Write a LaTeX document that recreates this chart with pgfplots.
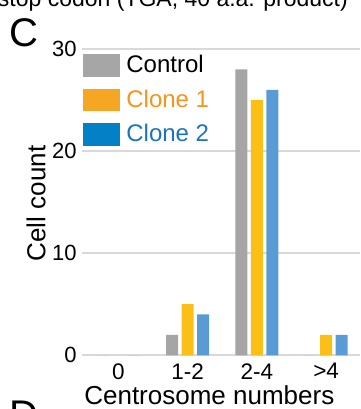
\documentclass[border=0pt]{standalone}
\usepackage{pgfplots}
\pgfplotsset{compat=1.18}
\usepackage{fontspec}
\setmainfont{Liberation Sans}
\definecolor{gridc}{HTML}{D9D9D9}
\definecolor{ctrl}{HTML}{A5A5A5}
\definecolor{cl1}{HTML}{FBBF16}
\definecolor{cl2}{HTML}{5B9BD5}
\definecolor{ctrlL}{HTML}{A6A6A6}
\definecolor{cl1L}{HTML}{F5A623}
\definecolor{cl2L}{HTML}{0480C6}
\definecolor{cl1T}{HTML}{F7941D}
\definecolor{cl2T}{HTML}{1C75BC}
\begin{document}
\begin{tikzpicture}
\useasboundingbox (0pt,0pt) rectangle (360pt,409pt);
\clip (0pt,0pt) rectangle (360pt,409pt);
\node[anchor=base east, inner sep=0pt, font=\fontsize{23}{27}\selectfont] at (348pt,402.5pt) {stop codon (TGA, 40 a.a. product)};
\node[anchor=base west, inner sep=0pt, font=\fontsize{40}{46}\selectfont] at (9pt,362.5pt) {C};
\node[anchor=base west, inner sep=0pt, font=\fontsize{40}{46}\selectfont] at (9pt,-19pt) {D};
\begin{axis}[
  at={(82pt,53.7pt)}, anchor=south west,
  scale only axis, width=278pt, height=306.3pt,
  xmin=-0.527, xmax=3.49, ymin=0, ymax=30,
  axis line style={draw=none},
  ytick={0,10,20,30}, xtick={0,1,2,3}, xticklabels={0,1-2,2-4,>4},
  major tick length=0pt,
  ymajorgrids, grid style={gridc, line width=2pt},
  /pgf/number format/assume math mode=true,
  yticklabel style={anchor=east, inner sep=0pt, xshift=-5.3pt, font=\fontsize{22}{26}\selectfont},
  xticklabel style={anchor=north, inner sep=0pt, yshift=-8pt, font=\fontsize{22.5}{26}\selectfont},
  xlabel={Centrosome numbers},
  xlabel style={at={(axis description cs:0.458,-0.1296)}, anchor=center, inner sep=0pt, font=\fontsize{26}{30}\selectfont},
  ylabel={Cell count},
  ylabel style={at={(axis description cs:-0.165,0.4956)}, anchor=center, inner sep=0pt, font=\fontsize{26}{30}\selectfont},
  legend style={draw=none, fill=none, inner sep=0pt, outer sep=0pt, row sep=12.7pt, column sep=6.7pt,
    at={(axis cs:-0.517,29.5)}, anchor=north west, font=\fontsize{24}{28}\selectfont,
    nodes={inner sep=0pt}},
  legend cell align=left,
]
\addlegendimage{legend image code/.code={\fill[ctrlL] (0pt,-10.7pt) rectangle (36.6pt,10.7pt);}}
\addlegendimage{legend image code/.code={\fill[cl1L] (0pt,-10.7pt) rectangle (36.6pt,10.7pt);}}
\addlegendimage{legend image code/.code={\fill[cl2L] (0pt,-10.7pt) rectangle (36.6pt,10.7pt);}}
\legend{Control,\textcolor{cl1T}{Clone 1},\textcolor{cl2T}{Clone 2}}
\addplot[ybar, bar width=12pt, bar shift=-15.5pt, fill=ctrl, draw=none, forget plot] coordinates {(0,0) (1,2) (2,28) (3,0)};
\addplot[ybar, bar width=12pt, bar shift=0pt, fill=cl1, draw=none, forget plot] coordinates {(0,0) (1,5) (2,25) (3,2)};
\addplot[ybar, bar width=12pt, bar shift=15.5pt, fill=cl2, draw=none, forget plot] coordinates {(0,0) (1,4) (2,26) (3,2)};
\end{axis}
\end{tikzpicture}
\end{document}
